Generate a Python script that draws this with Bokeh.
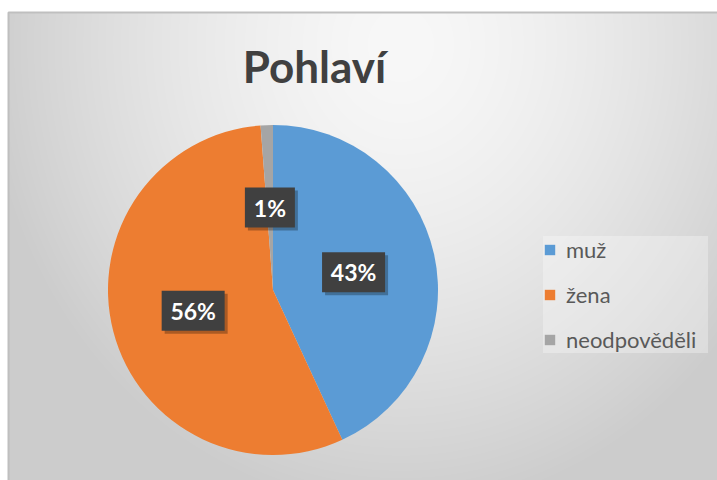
import numpy as np
from bokeh.plotting import figure
from bokeh.models import Legend, LegendItem, Range1d
from bokeh.embed import file_html
from bokeh.resources import INLINE
from bokeh.core.properties import value

# ---- data ----
categories = ["muž", "žena", "neodpověděli"]
shares = [43.1, 55.7, 1.2]
colors = ["#5B9BD5", "#ED7D31", "#A5A5A5"]
title_text = "Pohlaví"

# ---- layout (data units = pixels, y up) ----
RW, RH = 717, 480
cx, cy, R = 272.5, 190.5, 165.0

p = figure(width=RW, height=RH, x_range=Range1d(0, RW), y_range=Range1d(0, RH),
           output_backend="svg", toolbar_location=None, min_border=0,
           x_axis_location=None, y_axis_location=None)
p.grid.visible = False
p.outline_line_color = None
p.border_fill_color = "white"
p.background_fill_color = "white"

# ---- chart area radial gradient background ----
X0, Y1 = 8, RH - 12
gw, gh = RW - X0, Y1
ys, xs = np.mgrid[0:gh, 0:gw]
img_x = xs + X0
img_y = RH - ys
t = np.sqrt(((img_x - 400) / 420.0) ** 2 + ((img_y - 45) / 470.0) ** 2)
v = (248 - 44 * np.clip(t, 0, 1) ** 1.5).astype(np.uint32)
rgba = (np.uint32(255) << 24) | (v << 16) | (v << 8) | v
p.image_rgba(image=[rgba.astype(np.uint32)], x=X0, y=0, dw=gw, dh=gh)
p.line(x=[X0, X0, RW], y=[0, Y1, Y1], line_color="#bfbfbf", line_width=2)

# ---- pie ----
fr = np.array(shares) / sum(shares)
cum = np.concatenate([[0], np.cumsum(fr)])
start = np.pi / 2 - 2 * np.pi * cum[:-1]
end = np.pi / 2 - 2 * np.pi * cum[1:]
mid = (start + end) / 2
renderers = []
for i, c in enumerate(categories):
    r = p.wedge(x=cx, y=cy, radius=R, start_angle=start[i], end_angle=end[i],
                direction="clock", fill_color=colors[i], line_color=None)
    renderers.append(r)

# ---- data labels ----
labels = [f"{round(s)}%" for s in shares]
lx = cx + 0.5 * R * np.cos(mid)
ly = cy + 0.5 * R * np.sin(mid)
bw = [13 * len(l) + 24 for l in labels]
p.rect(x=lx + 3, y=ly - 3, width=bw, height=40, fill_color="black",
       fill_alpha=0.28, line_color=None)
p.rect(x=lx, y=ly, width=bw, height=40, fill_color="#404040", line_color=None)
p.text(x=lx, y=ly, text=labels, text_color="white", text_font=value("Lato"),
       text_font_style="bold", text_font_size="23px", text_align="center",
       text_baseline="middle")

# ---- title ----
p.text(x=[314], y=[415], text=[title_text], text_color="#404040",
       text_font=value("Lato"), text_font_style="bold", text_font_size="44px",
       text_align="center", text_baseline="middle")

# ---- legend ----
legend = Legend(items=[LegendItem(label=c, renderers=[r]) for c, r in zip(categories, renderers)],
                location=(543, 127), orientation="vertical",
                label_text_font="Lato", label_text_font_size="22px",
                label_text_color="#595959", glyph_width=13, glyph_height=13,
                label_standoff=10, label_height=22, label_width=142,
                spacing=18, padding=12, margin=0, border_line_color=None,
                background_fill_color="white", background_fill_alpha=0.3)
p.add_layout(legend)

open("out.html", "w").write(file_html(p, INLINE))
